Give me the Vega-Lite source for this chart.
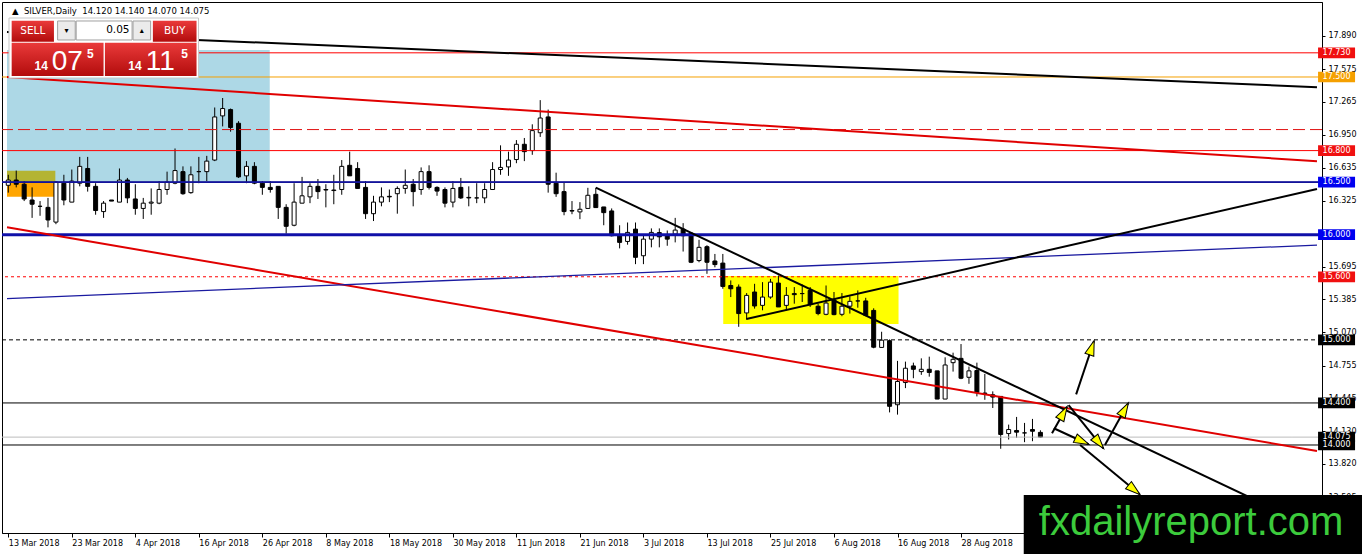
{
  "$schema": "https://vega.github.io/schema/vega-lite/v6.json",
  "width": 1320,
  "height": 531,
  "autosize": {"type": "none"},
  "padding": {"left": 2, "top": 2, "right": 40, "bottom": 21},
  "background": "white",
  "config": {
    "view": {"stroke": "black", "strokeWidth": 1},
    "axis": {"labelFont": "DejaVu Sans", "labelFontSize": 8, "labelColor": "#000", "domainColor": "#000", "tickColor": "#000", "grid": false, "titleOpacity": 0}
  },
  "datasets": {
    "candles": [
      {"i":0,"o":16.47,"h":16.57,"l":16.40,"c":16.52},
      {"i":1,"o":16.52,"h":16.61,"l":16.45,"c":16.48},
      {"i":2,"o":16.48,"h":16.51,"l":16.32,"c":16.34},
      {"i":3,"o":16.33,"h":16.45,"l":16.16,"c":16.29},
      {"i":4,"o":16.27,"h":16.32,"l":16.18,"c":16.27},
      {"i":5,"o":16.26,"h":16.35,"l":16.07,"c":16.14},
      {"i":6,"o":16.12,"h":16.51,"l":16.10,"c":16.50},
      {"i":7,"o":16.49,"h":16.57,"l":16.28,"c":16.33},
      {"i":8,"o":16.31,"h":16.62,"l":16.31,"c":16.51},
      {"i":9,"o":16.49,"h":16.74,"l":16.46,"c":16.65},
      {"i":10,"o":16.63,"h":16.74,"l":16.41,"c":16.46},
      {"i":11,"o":16.46,"h":16.49,"l":16.19,"c":16.23},
      {"i":12,"o":16.22,"h":16.32,"l":16.16,"c":16.30},
      {"i":13,"o":16.33,"h":16.33,"l":16.32,"c":16.32},
      {"i":14,"o":16.31,"h":16.63,"l":16.31,"c":16.52},
      {"i":15,"o":16.52,"h":16.54,"l":16.30,"c":16.35},
      {"i":16,"o":16.34,"h":16.48,"l":16.19,"c":16.25},
      {"i":17,"o":16.25,"h":16.35,"l":16.15,"c":16.30},
      {"i":18,"o":16.30,"h":16.44,"l":16.19,"c":16.31},
      {"i":19,"o":16.30,"h":16.51,"l":16.29,"c":16.43},
      {"i":20,"o":16.43,"h":16.60,"l":16.38,"c":16.50},
      {"i":21,"o":16.49,"h":16.82,"l":16.48,"c":16.61},
      {"i":22,"o":16.60,"h":16.65,"l":16.38,"c":16.39},
      {"i":23,"o":16.40,"h":16.65,"l":16.39,"c":16.57},
      {"i":24,"o":16.60,"h":16.74,"l":16.49,"c":16.60},
      {"i":25,"o":16.60,"h":16.75,"l":16.51,"c":16.70},
      {"i":26,"o":16.71,"h":17.21,"l":16.70,"c":17.12},
      {"i":27,"o":17.13,"h":17.30,"l":17.03,"c":17.20},
      {"i":28,"o":17.19,"h":17.20,"l":16.98,"c":17.02},
      {"i":29,"o":17.06,"h":17.08,"l":16.54,"c":16.55},
      {"i":30,"o":16.56,"h":16.70,"l":16.49,"c":16.65},
      {"i":31,"o":16.65,"h":16.69,"l":16.48,"c":16.49},
      {"i":32,"o":16.49,"h":16.51,"l":16.38,"c":16.45},
      {"i":33,"o":16.45,"h":16.51,"l":16.40,"c":16.43},
      {"i":34,"o":16.46,"h":16.46,"l":16.15,"c":16.26},
      {"i":35,"o":16.26,"h":16.29,"l":16.01,"c":16.08},
      {"i":36,"o":16.09,"h":16.49,"l":16.08,"c":16.31},
      {"i":37,"o":16.30,"h":16.55,"l":16.30,"c":16.37},
      {"i":38,"o":16.36,"h":16.49,"l":16.30,"c":16.46},
      {"i":39,"o":16.46,"h":16.53,"l":16.34,"c":16.41},
      {"i":40,"o":16.43,"h":16.48,"l":16.26,"c":16.425},
      {"i":41,"o":16.42,"h":16.57,"l":16.29,"c":16.425},
      {"i":42,"o":16.43,"h":16.71,"l":16.38,"c":16.65},
      {"i":43,"o":16.66,"h":16.79,"l":16.56,"c":16.56},
      {"i":44,"o":16.63,"h":16.69,"l":16.44,"c":16.44},
      {"i":45,"o":16.45,"h":16.51,"l":16.15,"c":16.20},
      {"i":46,"o":16.20,"h":16.37,"l":16.13,"c":16.31},
      {"i":47,"o":16.31,"h":16.45,"l":16.27,"c":16.36},
      {"i":48,"o":16.365,"h":16.43,"l":16.31,"c":16.36},
      {"i":49,"o":16.39,"h":16.46,"l":16.20,"c":16.44},
      {"i":50,"o":16.44,"h":16.62,"l":16.39,"c":16.47},
      {"i":51,"o":16.48,"h":16.53,"l":16.27,"c":16.41},
      {"i":52,"o":16.43,"h":16.64,"l":16.38,"c":16.60},
      {"i":53,"o":16.60,"h":16.66,"l":16.43,"c":16.45},
      {"i":54,"o":16.45,"h":16.46,"l":16.37,"c":16.415},
      {"i":55,"o":16.43,"h":16.45,"l":16.26,"c":16.30},
      {"i":56,"o":16.31,"h":16.51,"l":16.26,"c":16.44},
      {"i":57,"o":16.45,"h":16.54,"l":16.34,"c":16.35},
      {"i":58,"o":16.355,"h":16.46,"l":16.27,"c":16.35},
      {"i":59,"o":16.35,"h":16.49,"l":16.30,"c":16.35},
      {"i":60,"o":16.35,"h":16.49,"l":16.30,"c":16.43},
      {"i":61,"o":16.43,"h":16.69,"l":16.425,"c":16.62},
      {"i":62,"o":16.62,"h":16.85,"l":16.57,"c":16.64},
      {"i":63,"o":16.645,"h":16.79,"l":16.56,"c":16.71},
      {"i":64,"o":16.715,"h":16.90,"l":16.68,"c":16.86},
      {"i":65,"o":16.86,"h":16.92,"l":16.70,"c":16.79},
      {"i":66,"o":16.80,"h":17.05,"l":16.76,"c":16.99},
      {"i":67,"o":16.97,"h":17.28,"l":16.93,"c":17.11},
      {"i":68,"o":17.12,"h":17.19,"l":16.40,"c":16.48},
      {"i":69,"o":16.49,"h":16.59,"l":16.36,"c":16.39},
      {"i":70,"o":16.41,"h":16.50,"l":16.185,"c":16.22},
      {"i":71,"o":16.23,"h":16.32,"l":16.195,"c":16.225},
      {"i":72,"o":16.217,"h":16.31,"l":16.148,"c":16.242},
      {"i":73,"o":16.25,"h":16.446,"l":16.25,"c":16.375},
      {"i":74,"o":16.384,"h":16.446,"l":16.258,"c":16.258},
      {"i":75,"o":16.264,"h":16.264,"l":16.09,"c":16.21},
      {"i":76,"o":16.226,"h":16.25,"l":15.984,"c":15.99},
      {"i":77,"o":15.99,"h":16.09,"l":15.87,"c":15.927},
      {"i":78,"o":15.936,"h":16.116,"l":15.905,"c":16.022},
      {"i":79,"o":16.053,"h":16.116,"l":15.72,"c":15.785},
      {"i":80,"o":15.80,"h":15.996,"l":15.72,"c":15.958},
      {"i":81,"o":15.958,"h":16.06,"l":15.88,"c":16.022},
      {"i":82,"o":16.02,"h":16.06,"l":15.88,"c":15.98},
      {"i":83,"o":15.996,"h":16.04,"l":15.895,"c":15.958},
      {"i":84,"o":16.006,"h":16.16,"l":15.927,"c":16.044},
      {"i":85,"o":16.053,"h":16.11,"l":15.84,"c":15.99},
      {"i":86,"o":16.015,"h":16.02,"l":15.73,"c":15.738},
      {"i":87,"o":15.754,"h":15.952,"l":15.738,"c":15.88},
      {"i":88,"o":15.886,"h":15.90,"l":15.628,"c":15.738},
      {"i":89,"o":15.75,"h":15.817,"l":15.69,"c":15.716},
      {"i":90,"o":15.73,"h":15.817,"l":15.486,"c":15.508},
      {"i":91,"o":15.517,"h":15.565,"l":15.407,"c":15.486},
      {"i":92,"o":15.502,"h":15.527,"l":15.124,"c":15.25},
      {"i":93,"o":15.256,"h":15.445,"l":15.193,"c":15.423},
      {"i":94,"o":15.455,"h":15.533,"l":15.297,"c":15.322},
      {"i":95,"o":15.328,"h":15.549,"l":15.281,"c":15.407},
      {"i":96,"o":15.407,"h":15.58,"l":15.391,"c":15.549},
      {"i":97,"o":15.54,"h":15.612,"l":15.313,"c":15.313},
      {"i":98,"o":15.328,"h":15.502,"l":15.281,"c":15.423},
      {"i":99,"o":15.44,"h":15.502,"l":15.344,"c":15.43},
      {"i":100,"o":15.44,"h":15.527,"l":15.36,"c":15.44},
      {"i":101,"o":15.47,"h":15.502,"l":15.313,"c":15.335},
      {"i":102,"o":15.32,"h":15.344,"l":15.234,"c":15.25},
      {"i":103,"o":15.243,"h":15.517,"l":15.234,"c":15.35},
      {"i":104,"o":15.38,"h":15.455,"l":15.234,"c":15.24},
      {"i":105,"o":15.243,"h":15.445,"l":15.225,"c":15.32},
      {"i":106,"o":15.32,"h":15.414,"l":15.25,"c":15.366},
      {"i":107,"o":15.37,"h":15.47,"l":15.306,"c":15.37},
      {"i":108,"o":15.37,"h":15.40,"l":15.225,"c":15.234},
      {"i":109,"o":15.28,"h":15.30,"l":14.92,"c":14.93},
      {"i":110,"o":14.928,"h":15.077,"l":14.928,"c":14.997},
      {"i":111,"o":14.992,"h":15.004,"l":14.31,"c":14.368},
      {"i":112,"o":14.383,"h":14.80,"l":14.289,"c":14.604},
      {"i":113,"o":14.594,"h":14.793,"l":14.541,"c":14.73},
      {"i":114,"o":14.752,"h":14.783,"l":14.635,"c":14.72},
      {"i":115,"o":14.698,"h":14.824,"l":14.667,"c":14.72},
      {"i":116,"o":14.72,"h":14.84,"l":14.65,"c":14.69},
      {"i":117,"o":14.705,"h":14.705,"l":14.437,"c":14.437},
      {"i":118,"o":14.437,"h":14.834,"l":14.437,"c":14.761},
      {"i":119,"o":14.783,"h":14.878,"l":14.698,"c":14.815},
      {"i":120,"o":14.824,"h":14.96,"l":14.626,"c":14.635},
      {"i":121,"o":14.644,"h":14.746,"l":14.582,"c":14.705},
      {"i":122,"o":14.708,"h":14.783,"l":14.462,"c":14.50},
      {"i":123,"o":14.494,"h":14.676,"l":14.43,"c":14.49},
      {"i":124,"o":14.478,"h":14.51,"l":14.352,"c":14.456},
      {"i":125,"o":14.462,"h":14.462,"l":13.964,"c":14.10},
      {"i":126,"o":14.109,"h":14.194,"l":14.052,"c":14.147},
      {"i":127,"o":14.138,"h":14.267,"l":14.068,"c":14.122},
      {"i":128,"o":14.115,"h":14.21,"l":14.027,"c":14.115},
      {"i":129,"o":14.147,"h":14.248,"l":14.036,"c":14.131},
      {"i":130,"o":14.12,"h":14.14,"l":14.07,"c":14.075}
    ],
    "zones": [
      {"zone":"spring","x1":-0.1625,"x2":32.93,"y1":17.757,"y2":16.5},
      {"zone":"pivot_hi","x1":-0.1625,"x2":5.925,"y1":16.609,"y2":16.5},
      {"zone":"pivot_lo","x1":-0.1625,"x2":5.925,"y1":16.5,"y2":16.362},
      {"zone":"range","x1":90.05,"x2":112.13,"y1":15.607,"y2":15.151}
    ],
    "levels": [
      {"name":"17.730","price":17.73},
      {"name":"17.500","price":17.5},
      {"name":"17.000","price":17.0},
      {"name":"16.800","price":16.8},
      {"name":"16.500","price":16.5},
      {"name":"16.000","price":16.0},
      {"name":"15.600","price":15.6},
      {"name":"15.000","price":15.0},
      {"name":"14.400","price":14.4},
      {"name":"14.075","price":14.075},
      {"name":"14.000","price":14.0}
    ],
    "trends": [
      {"t":"long_black","x1":-0.1625,"y1":17.929,"x2":164.8375,"y2":17.403},
      {"t":"rise_black","x1":92.96,"y1":15.198,"x2":164.8375,"y2":16.434},
      {"t":"down_black","x1":74.0,"y1":16.447,"x2":164.8375,"y2":13.199},
      {"t":"upper_red","x1":-0.1625,"y1":17.499,"x2":164.8375,"y2":16.699},
      {"t":"lower_red","x1":-0.1625,"y1":16.070,"x2":164.8375,"y2":13.943},
      {"t":"lower_blue","x1":-0.1625,"y1":15.393,"x2":164.8375,"y2":15.901}
    ],
    "arrows": [
      {"x1":134.5,"y1":14.482,"x2":136.75,"y2":14.989},
      {"x1":131.46,"y1":14.111,"x2":133.34,"y2":14.364},
      {"x1":131.68,"y1":14.159,"x2":136.05,"y2":14.007},
      {"x1":133.55,"y1":14.380,"x2":137.93,"y2":13.968},
      {"x1":138.13,"y1":14.000,"x2":141.05,"y2":14.397},
      {"x1":135.0,"y1":14.000,"x2":142.5,"y2":13.531}
    ],
    "panel": [
      {"part":"bg","x1":0.0875,"x2":23.96,"y1":18.061,"y2":17.4905},
      {"part":"btn","x1":0.425,"x2":5.75,"y1":18.0355,"y2":17.8357},
      {"part":"btn","x1":18.21,"x2":23.71,"y1":18.0355,"y2":17.8357},
      {"part":"btn","x1":0.425,"x2":12.0,"y1":17.8262,"y2":17.5095},
      {"part":"btn","x1":12.17,"x2":23.71,"y1":17.8262,"y2":17.5095},
      {"part":"spin","x1":6.21,"x2":8.43,"y1":18.0326,"y2":17.8519},
      {"part":"spin","x1":15.71,"x2":17.93,"y1":18.0326,"y2":17.8519},
      {"part":"field","x1":8.55,"x2":15.59,"y1":18.0326,"y2":17.8519}
    ],
    "panelText": [
      {"k":"hdr","t":"\u25b2\u00a0\u00a0SILVER,Daily\u00a0\u00a014.120 14.140 14.070 14.075","x":0.46,"y":18.1277},
      {"k":"btn","t":"SELL","x":3.09,"y":17.9375},
      {"k":"btn","t":"BUY","x":20.96,"y":17.9375},
      {"k":"spin","t":"\u25be","x":7.32,"y":17.942},
      {"k":"spin","t":"\u25b4","x":16.82,"y":17.942},
      {"k":"lot","t":"0.05","x":15.275,"y":17.9423},
      {"k":"small","t":"14","x":4.14,"y":17.5666},
      {"k":"small","t":"14","x":15.96,"y":17.5666},
      {"k":"big","t":"07","x":5.46,"y":17.5666},
      {"k":"big","t":"11","x":17.3,"y":17.5666},
      {"k":"sup","t":"5","x":10.34,"y":17.6779},
      {"k":"sup","t":"5","x":22.21,"y":17.6779}
    ],
    "logo": [
      {"t":"fxdailyreport.com","x1":127.9,"x2":171,"y1":13.524,"y2":12.9,"tx":129.8,"ty":13.1439}
    ]
  },
  "layer": [
    {
      "data": {"name": "zones"},
      "mark": {"type": "rect"},
      "encoding": {
        "x": {
          "field": "x1", "type": "quantitative", "title": null,
          "scale": {"domain": [-0.1625, 164.8375], "nice": false, "zero": false},
          "axis": {
            "title": null,
            "values": [0, 8, 16, 24, 32, 40, 48, 56, 64, 72, 80, 88, 96, 104, 112, 120],
            "labelExpr": "['13 Mar 2018','23 Mar 2018','4 Apr 2018','16 Apr 2018','26 Apr 2018','8 May 2018','18 May 2018','30 May 2018','11 Jun 2018','21 Jun 2018','3 Jul 2018','13 Jul 2018','25 Jul 2018','6 Aug 2018','16 Aug 2018','28 Aug 2018'][round(datum.value / 8)]",
            "tickSize": 4,
            "labelAlign": "left",
            "labelBaseline": "top",
            "labelPadding": 2,
            "labelOffset": 0,
            "labelFlush": false,
            "labelOverlap": false
          }
        },
        "x2": {"field": "x2"},
        "y": {
          "field": "y1", "type": "quantitative", "title": null,
          "scale": {"domain": [13.163, 18.2133], "nice": false, "zero": false},
          "axis": {
            "title": null,
            "orient": "right",
            "values": [17.890, 17.575, 17.265, 16.950, 16.635, 16.325, 15.695, 15.385, 15.070, 14.755, 14.445, 14.130, 13.820, 13.505],
            "format": ".3f",
            "tickSize": 3,
            "labelPadding": 3,
            "labelAlign": "left",
            "labelBaseline": "middle",
            "labelFlush": false,
            "labelOverlap": false
          }
        },
        "y2": {"field": "y2"},
        "color": {
          "field": "zone", "type": "nominal",
          "scale": {"domain": ["spring", "pivot_hi", "pivot_lo", "range"], "range": ["#ADD8E6", "#B4B432", "#FFA500", "#FFFF00"]},
          "legend": null
        }
      }
    },
    {
      "data": {"name": "candles"},
      "mark": {"type": "rule", "color": "#000", "strokeWidth": 1},
      "encoding": {
        "x": {"field": "i", "type": "quantitative", "title": null},
        "y": {"field": "l", "type": "quantitative", "title": null},
        "y2": {"field": "h"}
      }
    },
    {
      "data": {"name": "candles"},
      "transform": [{"filter": "datum.c >= datum.o"}],
      "mark": {"type": "bar", "size": 4, "fill": "#FFFFFF", "stroke": "#000", "strokeWidth": 1},
      "encoding": {
        "x": {"field": "i", "type": "quantitative", "title": null},
        "y": {"field": "o", "type": "quantitative", "title": null},
        "y2": {"field": "c"}
      }
    },
    {
      "data": {"name": "candles"},
      "transform": [{"filter": "datum.c < datum.o"}],
      "mark": {"type": "bar", "size": 4, "fill": "#000", "stroke": "#000", "strokeWidth": 1},
      "encoding": {
        "x": {"field": "i", "type": "quantitative", "title": null},
        "y": {"field": "o", "type": "quantitative", "title": null},
        "y2": {"field": "c"}
      }
    },
    {
      "data": {"name": "levels"},
      "transform": [{"filter": "datum.name != '17.000'"}],
      "mark": {"type": "rule", "strokeWidth": 1},
      "encoding": {
        "y": {"field": "price", "type": "quantitative", "title": null},
        "stroke": {
          "field": "name", "type": "nominal", "legend": null,
          "scale": {
            "domain": ["17.730", "17.500", "16.800", "16.500", "16.000", "15.600", "15.000", "14.400", "14.075", "14.000"],
            "range": ["#FF0000", "#F5A000", "#FF0000", "#13139A", "#1010A8", "#FF0000", "#000000", "#000000", "#BDBDBD", "#000000"]
          }
        },
        "strokeDash": {
          "field": "name", "type": "nominal", "legend": null,
          "scale": {
            "domain": ["17.730", "17.500", "16.800", "16.500", "16.000", "15.600", "15.000", "14.400", "14.075", "14.000"],
            "range": [[1, 0], [1, 0], [1, 0], [1, 0], [1, 0], [3, 3], [4, 3], [1, 0], [1, 0], [1, 0]]
          }
        }
      }
    },
    {
      "data": {"name": "levels"},
      "transform": [{"filter": "datum.name == '17.000'"}],
      "mark": {"type": "rule", "strokeWidth": 1, "color": "#E01010", "strokeDash": [12, 5]},
      "encoding": {"y": {"field": "price", "type": "quantitative", "title": null}}
    },
    {
      "data": {"name": "levels"},
      "transform": [{"filter": "datum.name == '16.000'"}],
      "mark": {"type": "rule", "strokeWidth": 3, "color": "#1010A8"},
      "encoding": {"y": {"field": "price", "type": "quantitative", "title": null}}
    },
    {
      "data": {"name": "levels"},
      "transform": [{"filter": "datum.name == '16.500'"}],
      "mark": {"type": "rule", "strokeWidth": 1.6, "color": "#13139A"},
      "encoding": {"y": {"field": "price", "type": "quantitative", "title": null}}
    },
    {
      "data": {"name": "trends"},
      "transform": [{"filter": "indexof(['upper_red', 'lower_red'], datum.t) >= 0"}],
      "mark": {"type": "rule", "strokeWidth": 2, "color": "#E00000", "clip": true},
      "encoding": {
        "x": {"field": "x1", "type": "quantitative", "title": null},
        "x2": {"field": "x2"},
        "y": {"field": "y1", "type": "quantitative", "title": null},
        "y2": {"field": "y2"}
      }
    },
    {
      "data": {"name": "trends"},
      "transform": [{"filter": "datum.t == 'lower_blue'"}],
      "mark": {"type": "rule", "strokeWidth": 1.3, "color": "#1A1AA0", "clip": true},
      "encoding": {
        "x": {"field": "x1", "type": "quantitative", "title": null},
        "x2": {"field": "x2"},
        "y": {"field": "y1", "type": "quantitative", "title": null},
        "y2": {"field": "y2"}
      }
    },
    {
      "data": {"name": "trends"},
      "transform": [{"filter": "indexof(['long_black', 'rise_black', 'down_black'], datum.t) >= 0"}],
      "mark": {"type": "rule", "strokeWidth": 2, "color": "#000", "clip": true},
      "encoding": {
        "x": {"field": "x1", "type": "quantitative", "title": null},
        "x2": {"field": "x2"},
        "y": {"field": "y1", "type": "quantitative", "title": null},
        "y2": {"field": "y2"}
      }
    },
    {
      "data": {"name": "arrows"},
      "mark": {"type": "rule", "strokeWidth": 2, "color": "#000"},
      "encoding": {
        "x": {"field": "x1", "type": "quantitative", "title": null},
        "x2": {"field": "x2"},
        "y": {"field": "y1", "type": "quantitative", "title": null},
        "y2": {"field": "y2"}
      }
    },
    {
      "data": {"name": "arrows"},
      "transform": [
        {"calculate": "sqrt(pow((datum.x2 - datum.x1) * 8, 2) + pow((datum.y2 - datum.y1) * 105.14, 2))", "as": "len"},
        {"calculate": "datum.x2 - 7 * (datum.x2 - datum.x1) / datum.len", "as": "hx"},
        {"calculate": "datum.y2 - 7 * (datum.y2 - datum.y1) / datum.len", "as": "hy"},
        {"calculate": "atan2((datum.x2 - datum.x1) * 8, (datum.y2 - datum.y1) * 105.14) * 180 / PI", "as": "ang"}
      ],
      "mark": {"type": "point", "shape": "M0,-1L-0.62,1L0.62,1Z", "filled": true, "fill": "#FFFF00", "stroke": "#000", "strokeWidth": 1, "opacity": 1, "size": 225},
      "encoding": {
        "x": {"field": "hx", "type": "quantitative", "title": null},
        "y": {"field": "hy", "type": "quantitative", "title": null},
        "angle": {"field": "ang", "type": "quantitative", "scale": null}
      }
    },
    {
      "data": {"name": "panel"},
      "transform": [{"filter": "datum.part == 'bg'"}],
      "mark": {"type": "rect", "fill": "#FFFFFF", "stroke": "#C8C8C8", "strokeWidth": 1},
      "encoding": {
        "x": {"field": "x1", "type": "quantitative", "title": null},
        "x2": {"field": "x2"},
        "y": {"field": "y1", "type": "quantitative", "title": null},
        "y2": {"field": "y2"}
      }
    },
    {
      "data": {"name": "panel"},
      "transform": [{"filter": "datum.part == 'btn'"}],
      "mark": {
        "type": "rect",
        "fill": {"gradient": "linear", "x1": 0, "y1": 0, "x2": 0, "y2": 1, "stops": [{"offset": 0, "color": "#EA3A3A"}, {"offset": 1, "color": "#B20C0C"}]}
      },
      "encoding": {
        "x": {"field": "x1", "type": "quantitative", "title": null},
        "x2": {"field": "x2"},
        "y": {"field": "y1", "type": "quantitative", "title": null},
        "y2": {"field": "y2"}
      }
    },
    {
      "data": {"name": "panel"},
      "transform": [{"filter": "datum.part == 'spin'"}],
      "mark": {"type": "rect", "fill": "#EBEBEB", "stroke": "#A0A0A0", "strokeWidth": 1},
      "encoding": {
        "x": {"field": "x1", "type": "quantitative", "title": null},
        "x2": {"field": "x2"},
        "y": {"field": "y1", "type": "quantitative", "title": null},
        "y2": {"field": "y2"}
      }
    },
    {
      "data": {"name": "panel"},
      "transform": [{"filter": "datum.part == 'field'"}],
      "mark": {"type": "rect", "fill": "#FFFFFF", "stroke": "#A0A0A0", "strokeWidth": 1},
      "encoding": {
        "x": {"field": "x1", "type": "quantitative", "title": null},
        "x2": {"field": "x2"},
        "y": {"field": "y1", "type": "quantitative", "title": null},
        "y2": {"field": "y2"}
      }
    },
    {
      "data": {"name": "panelText"},
      "transform": [{"filter": "datum.k == 'hdr'"}],
      "mark": {"type": "text", "font": "DejaVu Sans", "fontSize": 8.5, "color": "#000", "align": "left", "baseline": "middle"},
      "encoding": {
        "x": {"field": "x", "type": "quantitative", "title": null},
        "y": {"field": "y", "type": "quantitative", "title": null},
        "text": {"field": "t"}
      }
    },
    {
      "data": {"name": "panelText"},
      "transform": [{"filter": "datum.k == 'btn'"}],
      "mark": {"type": "text", "font": "DejaVu Sans", "fontSize": 10.5, "color": "#FFFFFF", "align": "center", "baseline": "middle"},
      "encoding": {
        "x": {"field": "x", "type": "quantitative", "title": null},
        "y": {"field": "y", "type": "quantitative", "title": null},
        "text": {"field": "t"}
      }
    },
    {
      "data": {"name": "panelText"},
      "transform": [{"filter": "datum.k == 'spin'"}],
      "mark": {"type": "text", "font": "DejaVu Sans", "fontSize": 8, "color": "#000", "align": "center", "baseline": "middle"},
      "encoding": {
        "x": {"field": "x", "type": "quantitative", "title": null},
        "y": {"field": "y", "type": "quantitative", "title": null},
        "text": {"field": "t"}
      }
    },
    {
      "data": {"name": "panelText"},
      "transform": [{"filter": "datum.k == 'lot'"}],
      "mark": {"type": "text", "font": "DejaVu Sans", "fontSize": 10.5, "color": "#000", "align": "right", "baseline": "middle"},
      "encoding": {
        "x": {"field": "x", "type": "quantitative", "title": null},
        "y": {"field": "y", "type": "quantitative", "title": null},
        "text": {"field": "t"}
      }
    },
    {
      "data": {"name": "panelText"},
      "transform": [{"filter": "datum.k == 'small'"}],
      "mark": {"type": "text", "font": "Liberation Sans", "fontSize": 12, "fontWeight": "bold", "color": "#FFFFFF", "align": "center", "baseline": "alphabetic"},
      "encoding": {
        "x": {"field": "x", "type": "quantitative", "title": null},
        "y": {"field": "y", "type": "quantitative", "title": null},
        "text": {"field": "t"}
      }
    },
    {
      "data": {"name": "panelText"},
      "transform": [{"filter": "datum.k == 'big'"}],
      "mark": {"type": "text", "font": "Liberation Sans", "fontSize": 28, "color": "#FFFFFF", "align": "left", "baseline": "alphabetic"},
      "encoding": {
        "x": {"field": "x", "type": "quantitative", "title": null},
        "y": {"field": "y", "type": "quantitative", "title": null},
        "text": {"field": "t"}
      }
    },
    {
      "data": {"name": "panelText"},
      "transform": [{"filter": "datum.k == 'sup'"}],
      "mark": {"type": "text", "font": "Liberation Sans", "fontSize": 12, "fontWeight": "bold", "color": "#FFFFFF", "align": "center", "baseline": "alphabetic"},
      "encoding": {
        "x": {"field": "x", "type": "quantitative", "title": null},
        "y": {"field": "y", "type": "quantitative", "title": null},
        "text": {"field": "t"}
      }
    },
    {
      "data": {"name": "levels"},
      "transform": [{"filter": "datum.name != '17.000'"}],
      "mark": {"type": "point", "shape": "M-1,-0.29L1,-0.29L1,0.29L-1,0.29Z", "filled": true, "opacity": 1, "strokeWidth": 0, "size": 1369},
      "encoding": {
        "x": {"datum": 167.3, "type": "quantitative"},
        "y": {"field": "price", "type": "quantitative", "title": null},
        "fill": {
          "field": "name", "type": "nominal", "legend": null,
          "scale": {
            "domain": ["17.730", "17.500", "16.800", "16.500", "16.000", "15.600", "15.000", "14.400", "14.075", "14.000"],
            "range": ["#F01010", "#F5A000", "#F01010", "#0000F0", "#0000F0", "#F01010", "#000000", "#000000", "#000000", "#000000"]
          }
        }
      }
    },
    {
      "data": {"name": "levels"},
      "transform": [{"filter": "datum.name != '17.000'"}],
      "mark": {"type": "text", "font": "DejaVu Sans", "fontSize": 8, "color": "#FFFFFF", "align": "center", "baseline": "middle"},
      "encoding": {
        "x": {"datum": 167.3, "type": "quantitative"},
        "y": {"field": "price", "type": "quantitative", "title": null},
        "text": {"field": "name"}
      }
    },
    {
      "data": {"name": "logo"},
      "mark": {"type": "rect", "fill": "#000000"},
      "encoding": {
        "x": {"field": "x1", "type": "quantitative", "title": null},
        "x2": {"field": "x2"},
        "y": {"field": "y1", "type": "quantitative", "title": null},
        "y2": {"field": "y2"}
      }
    },
    {
      "data": {"name": "logo"},
      "mark": {"type": "text", "font": "Liberation Sans", "fontSize": 40, "color": "#3CCB3C", "align": "left", "baseline": "alphabetic"},
      "encoding": {
        "x": {"field": "tx", "type": "quantitative", "title": null},
        "y": {"field": "ty", "type": "quantitative", "title": null},
        "text": {"field": "t"}
      }
    }
  ]
}
